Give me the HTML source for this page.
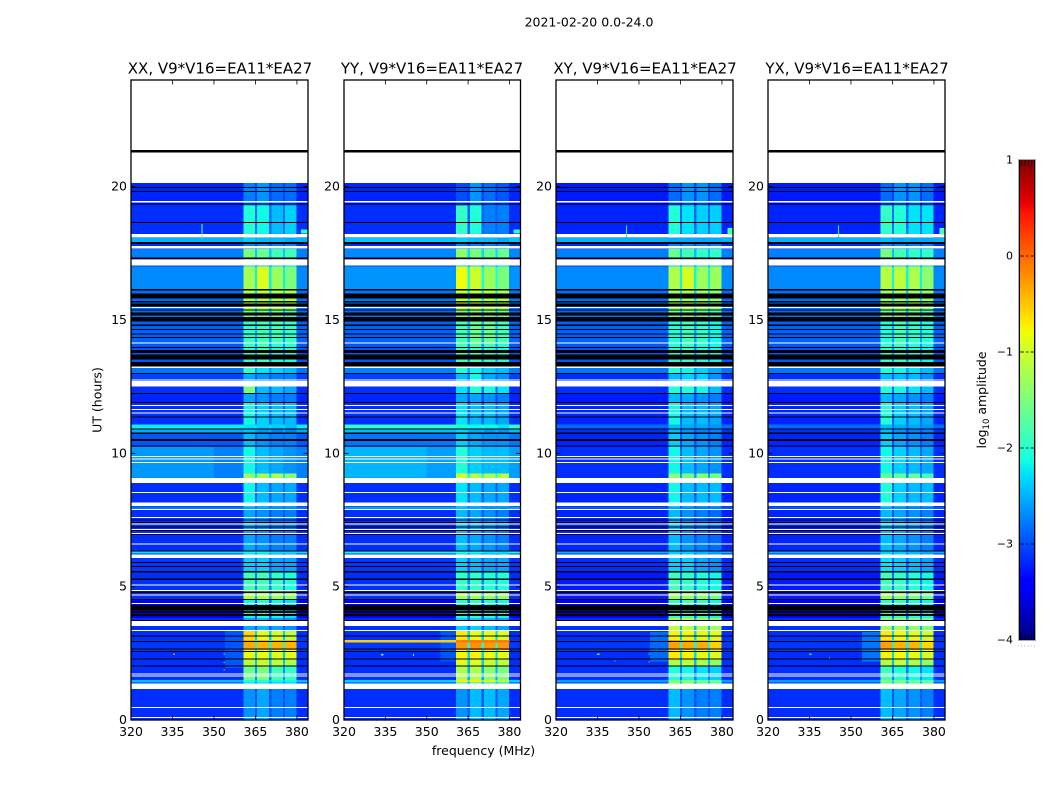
<!DOCTYPE html>
<html lang="en">
<head>
<meta charset="utf-8">
<title>2021-02-20 0.0-24.0</title>
<style>
  html, body { margin: 0; padding: 0; background: #fff; width: 1050px; height: 800px; overflow: hidden; }
  svg { display: block; }
  text { font-family: "DejaVu Sans", "Liberation Sans", sans-serif; fill: #000; }
</style>
</head>
<body>
<svg id="figure" xmlns="http://www.w3.org/2000/svg" width="1050" height="800" viewBox="0 0 1050 800">
  <text x="589" y="26.5" font-size="12.5" text-anchor="middle">2021-02-20 0.0-24.0</text>
  <g id="panel-xx"></g>
  <g id="panel-yy"></g>
  <g id="panel-xy"></g>
  <g id="panel-yx"></g>
  <text x="220" y="73.5" font-size="15" text-anchor="middle">XX, V9*V16=EA11*EA27</text>
  <text x="432" y="73.5" font-size="15" text-anchor="middle">YY, V9*V16=EA11*EA27</text>
  <text x="645" y="73.5" font-size="15" text-anchor="middle">XY, V9*V16=EA11*EA27</text>
  <text x="857" y="73.5" font-size="15" text-anchor="middle">YX, V9*V16=EA11*EA27</text>
  <text x="483.5" y="755" font-size="12.5" text-anchor="middle">frequency (MHz)</text>
  <text transform="translate(101.5,400) rotate(-90)" font-size="12.5" text-anchor="middle">UT (hours)</text>
  <g id="colorbar"></g>
  <text transform="translate(986,400) rotate(-90)" font-size="12.5" text-anchor="middle">log<tspan font-size="8.5" dy="3">10</tspan><tspan dy="-3"> amplitude</tspan></text>
</svg>
<script>
// ---- axis values ----
const freqTicks = [320, 335, 350, 365, 380];
const hourTicks = [0, 5, 10, 15, 20];
const colorTicks = [1, 0, -1, -2, -3, -4];
const colorTickLabels = ['1', '0', '\u22121', '\u22122', '\u22123', '\u22124'];

// ---- frequency columns (MHz) and which level each column reads: 0 background, 1-4 RFI sub-bands, 5 gap ----
const freqEdges = [320, 360.6, 364.8, 365.6, 369.9, 370.8, 374.9, 375.6, 379.9, 384];
const columnBand = [0, 1, 5, 2, 5, 3, 5, 4, 0];

// ---- time zones: start hour of each zone, the last one ending at dataEnd ----
const dataEnd = 20.13;
const zoneStarts = [0, 1.36, 1.40, 1.50, 2.02, 2.25, 2.62, 3.00, 3.37, 3.82, 4.50, 4.87, 5.59, 6.25, 6.33, 7.87, 8.01, 9.07, 9.25, 10.24, 10.72, 10.92, 11.08, 11.92, 12.26, 12.50, 12.98, 13.20, 14.10, 15.00, 15.40, 16.12, 17.00, 17.32, 17.66, 17.92, 18.07, 18.22, 19.30];

// ---- log10 amplitude per zone: [background, band1, band2, band3, band4] ----
const xxLevels = [
 [-3.15,-2.65,-2.55,-2.75,-2.75],[-3.1,-2.35,-2.35,-2.45,-2.45],[-2.45,-2.05,-2.05,-2.15,-2.15],[-3.15,-1.6,-1.5,-1.85,-1.95],
 [-3.15,-1.1,-1.0,-1.1,-1.2],[-3.15,-0.85,-0.85,-0.9,-0.9],[-3.1,-0.35,-0.4,-0.4,-0.4],[-3.15,-0.6,-0.8,-0.9,-1.1],
 [-3.15,-2.55,-2.45,-2.55,-2.65],[-3.4,-2.15,-2.05,-2.15,-2.25],[-3.15,-1.2,-1.2,-1.3,-1.4],[-3.15,-1.85,-1.85,-1.95,-2.05],
 [-3.1,-2.35,-2.35,-2.55,-2.55],[-2.25,-2.15,-2.15,-2.25,-2.25],[-3.15,-2.55,-2.65,-2.75,-2.75],[-2.8,-2.55,-2.55,-2.65,-2.65],
 [-3.15,-2.15,-2.45,-2.55,-2.55],[-2.75,-1.3,-1.2,-1.2,-1.4],[-2.75,-2.15,-2.45,-2.55,-2.65],[-2.95,-2.45,-2.65,-2.75,-2.75],
 [-2.55,-2.45,-2.65,-2.75,-2.75],[-2.2,-2.25,-2.35,-2.35,-2.45],[-3.15,-2.15,-2.35,-2.45,-2.45],[-3.2,-2.55,-2.65,-2.75,-2.75],
 [-3.15,-1.5,-2.45,-2.45,-2.55],[-3.05,-2.55,-2.65,-2.75,-2.75],[-2.8,-1.95,-2.25,-2.35,-2.45],[-2.95,-1.95,-1.85,-2.05,-2.05],
 [-2.9,-1.95,-1.85,-1.85,-1.95],[-2.85,-1.6,-1.5,-1.5,-1.85],[-2.85,-1.2,-1.15,-1.2,-1.2],[-2.7,-1.25,-0.9,-1.3,-1.5],
 [-3.05,-2.35,-2.35,-2.35,-2.35],[-2.75,-1.5,-1.6,-1.85,-1.85],[-3.15,-2.75,-2.75,-2.75,-2.75],[-2.5,-2.35,-2.45,-2.45,-2.55],
 [-3.05,-2.65,-2.65,-2.65,-2.65],[-3.15,-2.05,-2.15,-2.45,-2.35],[-3.2,-2.75,-2.65,-2.85,-2.85]
];
const yyLevels = [
 [-3.15,-2.65,-2.45,-2.45,-2.55],[-3.1,-2.15,-2.15,-2.25,-2.35],[-2.35,-0.7,-0.7,-0.9,-1.1],[-3.15,-1.2,-1.2,-1.4,-1.5],
 [-3.15,-0.9,-0.9,-1.0,-1.1],[-3.15,-0.75,-0.75,-0.8,-0.85],[-3.1,-0.25,-0.2,-0.25,-0.25],[-3.15,-0.7,-0.8,-0.8,-0.9],
 [-3.15,-2.35,-2.35,-2.45,-2.55],[-3.4,-2.05,-1.95,-2.05,-2.15],[-3.15,-1.3,-1.3,-1.35,-1.4],[-3.15,-1.95,-1.95,-2.05,-2.05],
 [-3.1,-2.35,-2.45,-2.55,-2.55],[-2.15,-2.05,-2.15,-2.25,-2.25],[-3.15,-2.45,-2.55,-2.65,-2.75],[-2.6,-2.45,-2.55,-2.65,-2.65],
 [-3.15,-2.25,-2.45,-2.55,-2.55],[-2.6,-1.0,-1.1,-1.2,-1.1],[-2.6,-2.05,-2.35,-2.45,-2.45],[-2.8,-2.35,-2.55,-2.65,-2.65],
 [-2.45,-2.35,-2.55,-2.65,-2.65],[-1.95,-2.05,-2.15,-2.15,-2.25],[-3.15,-2.25,-2.45,-2.45,-2.55],[-3.2,-2.55,-2.55,-2.65,-2.75],
 [-3.15,-2.25,-2.05,-2.15,-2.25],[-3.05,-2.45,-2.15,-2.55,-2.65],[-2.75,-2.05,-2.15,-2.35,-2.45],[-2.95,-1.85,-1.85,-1.95,-2.05],
 [-2.9,-1.85,-1.6,-1.6,-1.85],[-2.85,-1.5,-1.4,-1.4,-1.6],[-2.8,-1.1,-1.1,-1.15,-1.2],[-2.65,-0.8,-1.0,-1.3,-1.5],
 [-3.05,-2.35,-2.35,-2.35,-2.35],[-2.7,-1.4,-1.5,-1.6,-1.6],[-3.15,-2.75,-2.75,-2.75,-2.75],[-2.4,-2.35,-2.45,-2.45,-2.55],
 [-3.05,-2.65,-2.65,-2.65,-2.65],[-3.15,-1.95,-2.05,-2.75,-2.75],[-3.2,-3.0,-2.65,-2.85,-2.95]
];
const xyLevels = [
 [-3.15,-2.45,-2.65,-2.75,-2.75],[-3.15,-1.6,-1.6,-1.85,-1.85],[-2.6,-1.4,-1.3,-1.5,-1.5],[-3.15,-2.05,-2.15,-2.25,-2.35],
 [-3.15,-1.2,-1.1,-1.2,-1.4],[-3.15,-0.7,-0.75,-0.85,-0.9],[-3.1,-0.3,-0.35,-0.35,-0.55],[-3.15,-0.75,-0.8,-0.85,-0.9],
 [-3.15,-1.1,-1.1,-1.2,-1.3],[-3.4,-1.95,-1.85,-1.95,-2.15],[-3.25,-1.3,-1.3,-1.4,-1.6],[-3.25,-1.85,-1.95,-2.05,-2.15],
 [-3.15,-2.35,-2.35,-2.55,-2.65],[-2.5,-2.35,-2.35,-2.45,-2.55],[-3.2,-2.45,-2.65,-2.75,-2.85],[-2.95,-2.55,-2.65,-2.75,-2.75],
 [-3.2,-2.15,-2.45,-2.45,-2.45],[-3.15,-1.4,-1.5,-1.4,-1.5],[-3.15,-2.15,-2.45,-2.55,-2.65],[-3.2,-2.35,-2.55,-2.65,-2.75],
 [-3.15,-2.45,-2.65,-2.75,-2.75],[-2.85,-2.45,-2.55,-2.55,-2.65],[-3.2,-2.15,-2.45,-2.45,-2.55],[-3.25,-2.45,-2.55,-2.65,-2.75],
 [-3.15,-2.05,-2.05,-2.15,-2.45],[-3.15,-2.45,-2.35,-2.35,-2.65],[-2.8,-2.05,-2.15,-2.35,-2.55],[-2.95,-2.05,-1.95,-2.05,-2.15],
 [-2.9,-2.05,-1.85,-1.95,-2.15],[-2.85,-1.6,-1.5,-1.6,-1.85],[-2.85,-1.3,-1.3,-1.3,-1.4],[-2.7,-1.2,-0.95,-1.3,-1.3],
 [-3.05,-2.35,-2.35,-2.35,-2.35],[-2.75,-1.6,-1.85,-1.95,-1.95],[-3.15,-2.75,-2.75,-2.75,-2.75],[-2.5,-2.55,-2.55,-2.55,-2.55],
 [-3.05,-2.65,-2.65,-2.65,-2.65],[-3.2,-2.05,-2.25,-2.35,-2.35],[-3.25,-2.85,-2.65,-2.65,-2.85]
];
const yxLevels = [
 [-3.15,-2.45,-2.55,-2.65,-2.75],[-3.15,-1.85,-1.85,-1.95,-1.95],[-2.6,-1.4,-1.4,-1.5,-1.6],[-3.15,-1.85,-2.05,-2.15,-2.25],
 [-3.15,-1.2,-1.1,-1.2,-1.4],[-3.15,-0.75,-0.8,-0.85,-0.95],[-3.1,-0.3,-0.4,-0.4,-0.6],[-3.15,-0.7,-0.8,-0.85,-1.0],
 [-3.15,-1.3,-1.3,-1.4,-1.5],[-3.4,-1.95,-1.95,-2.05,-2.15],[-3.25,-1.3,-1.4,-1.5,-1.6],[-3.25,-1.85,-1.95,-2.05,-2.15],
 [-3.15,-2.25,-2.35,-2.45,-2.55],[-2.5,-2.35,-2.35,-2.45,-2.55],[-3.2,-2.45,-2.55,-2.65,-2.75],[-2.95,-2.55,-2.65,-2.75,-2.75],
 [-3.2,-2.05,-2.35,-2.45,-2.45],[-3.15,-1.6,-1.6,-1.6,-1.85],[-3.15,-2.15,-2.35,-2.45,-2.55],[-3.2,-2.35,-2.55,-2.65,-2.75],
 [-3.15,-2.45,-2.65,-2.75,-2.75],[-2.85,-2.45,-2.55,-2.55,-2.65],[-3.2,-2.05,-2.35,-2.45,-2.55],[-3.25,-2.45,-2.55,-2.65,-2.75],
 [-3.15,-2.05,-2.15,-2.25,-2.45],[-3.15,-2.45,-2.45,-2.45,-2.65],[-2.8,-2.05,-2.15,-2.25,-2.45],[-2.95,-1.95,-1.95,-2.05,-2.15],
 [-2.9,-2.05,-1.85,-1.95,-2.05],[-2.85,-1.6,-1.5,-1.6,-1.85],[-2.85,-1.3,-1.3,-1.3,-1.4],[-2.7,-1.15,-1.1,-1.2,-1.4],
 [-3.05,-2.35,-2.35,-2.35,-2.35],[-2.75,-1.5,-1.85,-1.95,-1.95],[-3.15,-2.75,-2.75,-2.75,-2.75],[-2.5,-2.45,-2.55,-2.55,-2.55],
 [-3.05,-2.65,-2.65,-2.65,-2.65],[-3.2,-1.95,-2.05,-2.25,-2.25],[-3.25,-2.85,-2.65,-2.65,-2.85]
];

// ---- regional level changes under the flags: [freq0, freq1, hour0, hour1, level] ----
const xxPatches = [[354,360.6,1.95,3.35,-2.95],[320,350,9.1,10.24,-2.62]];
const yyPatches = [[355,360.6,2.2,3.35,-2.95],[320,350,9.1,10.24,-2.48]];
const xyPatches = [[354,360.6,2.2,3.3,-2.85]];
const yxPatches = [[354,360.6,2.2,3.3,-2.8]];

// ---- features drawn over the flags: [freq0, freq1, hour0, hour1, level] ----
const xxMarks = [[345.5,345.9,18.05,18.6,-1.6],[381.5,384,18.25,18.4,-2.0],[335.2,335.9,2.44,2.49,-0.1],[353.5,353.9,2.13,2.17,-0.3],[353.5,353.9,1.85,1.89,-0.3],[353.5,353.9,2.45,2.49,-1.6]];
const yyMarks = [[320,360.6,2.9,3.0,-0.55],[360.6,380,2.9,3.0,-0.1],[381.5,384,18.25,18.4,-2.0],[333.5,334.3,2.42,2.47,-1.6],[345,345.4,2.4,2.48,-1.4]];
const xyMarks = [[345.3,345.7,18.1,18.55,-2.1],[382,384,18.2,18.45,-1.8],[334.8,335.8,2.44,2.49,-1.8],[341.2,341.6,2.2,2.24,-0.5],[353.5,353.9,2.15,2.19,-0.3],[353.5,353.9,2.46,2.5,-1.9]];
const yxMarks = [[345.3,345.7,18.1,18.55,-2.0],[382,384,18.2,18.45,-1.8],[335,335.8,2.44,2.49,-1.8],[342,342.4,2.3,2.34,-0.5]];

// ---- flagged time ranges (hours): white = no data, black = below colour range ----
const whiteRows = [[0.075,0.11],[0.46,0.49],[1.17,1.36],[1.65,1.67],[1.71,1.75],[3.35,3.38],[3.52,3.71],[4.36,4.39],[4.66,4.70],[4.84,4.88],[5.05,5.09],[6.07,6.20],[6.59,6.61],[6.99,7.02],[7.14,7.16],[7.34,7.36],[7.57,7.61],[7.87,7.91],[8.03,8.15],[8.51,8.55],[8.88,9.07],[9.64,9.68],[9.78,9.80],[9.87,9.90],[11.51,11.53],[11.62,11.66],[11.77,11.81],[12.50,12.72],[12.74,12.77],[13.20,13.25],[14.13,14.16],[15.45,15.49],[17.04,17.27],[17.68,17.77],[18.09,18.22],[19.40,19.46]];
const blackRows = [[2.00,2.04],[2.27,2.31],[2.55,2.58],[2.66,2.69],[2.92,2.96],[3.13,3.17],[3.72,3.75],[3.90,3.97],[4.02,4.10],[4.12,4.31],[4.50,4.54],[4.77,4.81],[5.25,5.31],[5.54,5.59],[5.74,5.77],[5.89,5.92],[6.34,6.36],[6.94,6.97],[7.08,7.12],[7.23,7.26],[7.40,7.43],[7.49,7.52],[10.27,10.30],[10.47,10.53],[10.73,10.79],[10.92,10.94],[11.36,11.39],[11.89,11.93],[12.24,12.27],[12.98,13.02],[13.25,13.42],[13.52,13.70],[13.77,13.87],[13.96,13.99],[14.34,14.37],[14.45,14.49],[14.62,14.66],[14.77,14.84],[14.94,15.12],[15.16,15.29],[15.35,15.39],[15.50,15.62],[15.66,15.71],[15.81,16.00],[16.11,16.16],[17.29,17.34],[17.85,17.92],[18.64,18.67],[19.33,19.36],[19.80,19.83],[19.95,19.98],[21.29,21.37]];

// ---- jet colormap anchors: [position, value] ----
const jetRed = [[0,0],[0.35,0],[0.66,1],[0.89,1],[1,0.5]];
const jetGreen = [[0,0],[0.125,0],[0.375,1],[0.64,1],[0.91,0],[1,0]];
const jetBlue = [[0,0.5],[0.11,1],[0.34,1],[0.65,0],[1,0]];
const levelMin = -4;
const levelMax = 1;

const SVG_NS = 'http://www.w3.org/2000/svg';
const plotTop = 80;
const plotBottom = 720;
const hourMax = 24;
const freqMin = 320;
const freqMax = 384;

function yScale(hour) { return plotBottom - hour * (plotBottom - plotTop) / hourMax; }
function lookup(table, t) {
  for (let i = 1; i < table.length; i++) {
    if (t <= table[i][0]) {
      const a = table[i - 1], b = table[i];
      return a[1] + (b[1] - a[1]) * (t - a[0]) / (b[0] - a[0]);
    }
  }
  return table[table.length - 1][1];
}
function levelColor(level) {
  const t = Math.max(0, Math.min(1, (level - levelMin) / (levelMax - levelMin)));
  const r = Math.round(255 * lookup(jetRed, t));
  const g = Math.round(255 * lookup(jetGreen, t));
  const b = Math.round(255 * lookup(jetBlue, t));
  return 'rgb(' + r + ',' + g + ',' + b + ')';
}
function addRect(parent, x, y, w, h, fill) {
  const r = document.createElementNS(SVG_NS, 'rect');
  r.setAttribute('x', x);
  r.setAttribute('y', y);
  r.setAttribute('width', w);
  r.setAttribute('height', h);
  r.setAttribute('fill', fill);
  r.setAttribute('shape-rendering', 'crispEdges');
  parent.appendChild(r);
  return r;
}
function addLine(parent, x1, y1, x2, y2, stroke, width) {
  const l = document.createElementNS(SVG_NS, 'line');
  l.setAttribute('x1', x1);
  l.setAttribute('y1', y1);
  l.setAttribute('x2', x2);
  l.setAttribute('y2', y2);
  l.setAttribute('stroke', stroke);
  l.setAttribute('stroke-width', width);
  parent.appendChild(l);
  return l;
}
function addText(parent, x, y, str, size, anchor) {
  const t = document.createElementNS(SVG_NS, 'text');
  t.setAttribute('x', x);
  t.setAttribute('y', y);
  t.setAttribute('font-size', size);
  t.setAttribute('text-anchor', anchor);
  t.textContent = str;
  parent.appendChild(t);
  return t;
}

function drawPanel(groupId, left, right, levels, patches, marks) {
  const g = document.getElementById(groupId);
  const xScale = function (f) { return left + (f - freqMin) * (right - left) / (freqMax - freqMin); };

  // zone cells
  zoneStarts.forEach(function (start, zi) {
    const end = zi + 1 < zoneStarts.length ? zoneStarts[zi + 1] : dataEnd;
    const row = levels[zi];
    const gapLevel = row[0] * 0.65 + (row[1] + row[2] + row[3] + row[4]) / 4 * 0.35;
    columnBand.forEach(function (band, ci) {
      const level = band === 5 ? gapLevel : row[band];
      const x0 = xScale(freqEdges[ci]);
      const x1 = xScale(freqEdges[ci + 1]);
      const cell = addRect(g, x0, yScale(end), x1 - x0, yScale(start) - yScale(end), levelColor(level));
      
      
    });
  });

  // regional patches
  patches.forEach(function (p) {
    const patch = addRect(g, xScale(p[0]), yScale(p[3]), xScale(p[1]) - xScale(p[0]), yScale(p[2]) - yScale(p[3]), levelColor(p[4]));
    
    
  });

  // flags
  blackRows.forEach(function (b) {
    const flag = addRect(g, left, yScale(b[1]), right - left, Math.max(1, yScale(b[0]) - yScale(b[1])), '#000');
    
    
  });
  whiteRows.forEach(function (w) {
    const flag = addRect(g, left, yScale(w[1]), right - left, Math.max(1, yScale(w[0]) - yScale(w[1])), '#fff');
    
    
  });

  // overlaid features
  marks.forEach(function (m) {
    const mark = addRect(g, xScale(m[0]), yScale(m[3]), Math.max(1, xScale(m[1]) - xScale(m[0])), Math.max(1, yScale(m[2]) - yScale(m[3])), levelColor(m[4]));
    
    
  });

  // ticks and tick labels
  freqTicks.forEach(function (f) {
    const x = xScale(f);
    const tb = addLine(g, x, plotBottom, x, plotBottom - 4.5, '#000', 0.8);
    
    
    const tt = addLine(g, x, plotTop, x, plotTop + 4.5, '#000', 0.8);
    
    
    const label = addText(g, x, 736, String(f), 12.5, 'middle');
    
    
  });
  hourTicks.forEach(function (h) {
    const y = yScale(h);
    const tl = addLine(g, left, y, left + 4.5, y, '#000', 0.8);
    
    
    const tr = addLine(g, right, y, right - 4.5, y, '#000', 0.8);
    
    
    const label = addText(g, left - 4, y + 4, String(h), 12.5, 'end');
    
    
  });

  // frame
  const frame = document.createElementNS(SVG_NS, 'rect');
  frame.setAttribute('x', left);
  frame.setAttribute('y', plotTop);
  frame.setAttribute('width', right - left);
  frame.setAttribute('height', plotBottom - plotTop);
  frame.setAttribute('fill', 'none');
  frame.setAttribute('stroke', '#000');
  frame.setAttribute('stroke-width', '1.3');
  
  
  g.appendChild(frame);
}

drawPanel('panel-xx', 131, 308, xxLevels, xxPatches, xxMarks);
drawPanel('panel-yy', 344, 520.5, yyLevels, yyPatches, yyMarks);
drawPanel('panel-xy', 556, 733, xyLevels, xyPatches, xyMarks);
drawPanel('panel-yx', 768, 945, yxLevels, yxPatches, yxMarks);

// ---- colorbar ----
(function () {
  const g = document.getElementById('colorbar');
  const barLeft = 1019, barRight = 1035, barTop = 160, barBottom = 640;
  const cScale = function (level) { return barBottom - (level - levelMin) * (barBottom - barTop) / (levelMax - levelMin); };
  for (let y = barTop; y < barBottom; y += 2) {
    const level = levelMin + (barBottom - y - 1) * (levelMax - levelMin) / (barBottom - barTop);
    const strip = addRect(g, barLeft, y, barRight - barLeft, 2, levelColor(level));
    
    
  }
  const edgeL = addLine(g, barLeft + 0.5, barTop, barLeft + 0.5, barBottom, '#000', 1);
  
  
  const edgeR = addLine(g, barRight - 0.5, barTop, barRight - 0.5, barBottom, '#000', 1);
  
  
  const outer = document.createElementNS(SVG_NS, 'rect');
  outer.setAttribute('x', barLeft - 0.5);
  outer.setAttribute('y', barTop - 0.5);
  outer.setAttribute('width', barRight - barLeft + 1);
  outer.setAttribute('height', barBottom - barTop + 1);
  outer.setAttribute('fill', 'none');
  outer.setAttribute('stroke', '#aaa');
  outer.setAttribute('stroke-width', '1');
  
  
  g.appendChild(outer);

  colorTicks.forEach(function (c, i) {
    const y = cScale(c);
    if (i > 0 && i < colorTicks.length - 1) {
      const a = addLine(g, barLeft, y, barLeft + 5, y, '#000', 0.8);
      
      
      const b = addLine(g, barLeft + 7, y, barLeft + 9.5, y, '#000', 0.8);
      
      
      const d = addLine(g, barRight - 4.5, y, barRight, y, '#000', 0.8);
      
      
    }
    const label = addText(g, 1013, y + 3.5, colorTickLabels[i], 11, 'end');
    
    
  });

  for (let k = 0; k < 4; k++) {
    const x = 1021.7 + k * 3.33;
    const top = addLine(g, x, barTop, x, barTop + 6, '#000', 0.8);
    
    
    const bottom = addLine(g, x, barBottom, x, barBottom - 6, '#000', 0.8);
    
    
  }
  for (let k = 0; k < 6; k++) {
    const dot = addRect(g, 1017.5 + k * 3.3, 645.5, 1, 1, '#aaa');
    
    
  }
})();
</script>
</body>
</html>
